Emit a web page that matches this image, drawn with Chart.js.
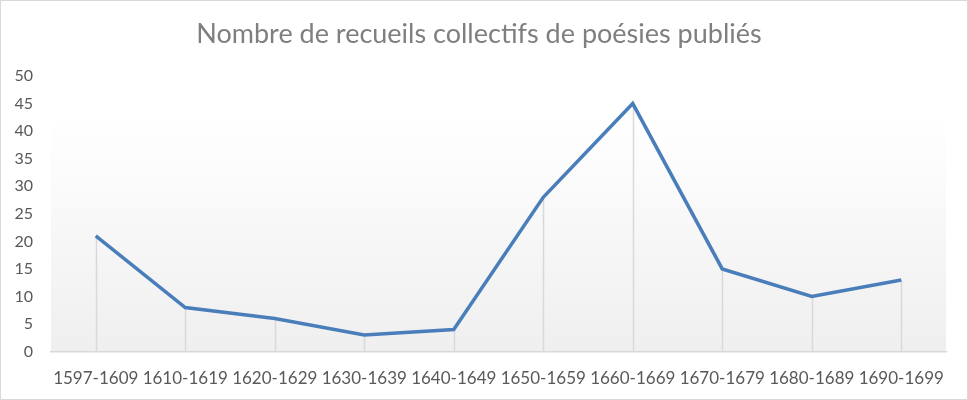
<!DOCTYPE html>
<html>
<head>
<meta charset="utf-8">
<script src="https://cdn.jsdelivr.net/npm/chart.js@4.4.0/dist/chart.umd.min.js"></script>
<style>
  html, body { margin: 0; padding: 0; background: #fff; }
  #wrap { width: 968px; height: 400px; }
</style>
</head>
<body>
<div id="wrap"><canvas id="myChart" width="968" height="400"></canvas></div>
<script>
const titleText = 'Nombre de recueils collectifs de poésies publiés';
const periods = ['1597-1609', '1610-1619', '1620-1629', '1630-1639', '1640-1649',
                 '1650-1659', '1660-1669', '1670-1679', '1680-1689', '1690-1699'];
const recueils = [21, 8, 6, 3, 4, 28, 45, 15, 10, 13];
const yTicks = { min: 0, max: 50, step: 5 };

// plot area gradient + outer frame
const backdrop = {
  id: 'backdrop',
  beforeDraw(chart) {
    const { ctx, chartArea: a } = chart;
    const g = ctx.createLinearGradient(0, a.top, 0, a.bottom);
    g.addColorStop(0, '#ffffff');
    g.addColorStop(0.15, '#ffffff');
    g.addColorStop(1, '#efefef');
    ctx.save();
    ctx.fillStyle = g;
    ctx.fillRect(a.left, a.top, a.right - a.left, a.bottom - a.top);
    ctx.restore();
  },
  afterDraw(chart) {
    const ctx = chart.ctx;
    ctx.save();
    ctx.strokeStyle = '#d9d9d9';
    ctx.lineWidth = 1;
    ctx.strokeRect(0.5, 0.5, chart.width - 1, chart.height - 1);
    ctx.restore();
  }
};

// vertical drop lines from each point down to the x axis
const dropLines = {
  id: 'dropLines',
  beforeDatasetsDraw(chart) {
    const { ctx, scales: { x, y } } = chart;
    ctx.save();
    ctx.strokeStyle = '#d9d9d9';
    ctx.lineWidth = 1.5;
    recueils.forEach((v, i) => {
      const px = Math.round(x.getPixelForValue(i)) + 0.5;
      ctx.beginPath();
      ctx.moveTo(px, y.getPixelForValue(v));
      ctx.lineTo(px, y.getPixelForValue(0));
      ctx.stroke();
    });
    ctx.restore();
  }
};

new Chart(document.getElementById('myChart'), {
  type: 'line',
  data: {
    labels: periods,
    datasets: [{
      data: recueils,
      borderColor: '#4a7ebb',
      borderWidth: 3.5,
      tension: 0,
      pointRadius: 0,
      fill: false
    }]
  },
  options: {
    responsive: false,
    animation: false,
    layout: { padding: { left: 12, right: 22, top: 0, bottom: -6 } },
    plugins: {
      legend: { display: false },
      tooltip: { enabled: false },
      title: {
        display: true,
        text: titleText,
        color: '#7f7f7f',
        font: { family: 'Lato', size: 27, weight: 'normal', lineHeight: 1.2 },
        padding: { top: 18, bottom: 25.6 }
      }
    },
    scales: {
      x: {
        offset: true,
        grid: { display: false, drawTicks: false },
        border: { color: '#d9d9d9', width: 1.5 },
        ticks: { color: '#595959', font: { family: 'Lato', size: 17 }, maxRotation: 0, autoSkip: false, padding: 17 },
        afterFit(s) { s.paddingLeft = 0; s.paddingRight = 0; }
      },
      y: {
        min: yTicks.min,
        max: yTicks.max,
        grid: { display: false, drawTicks: false },
        border: { display: false },
        ticks: { stepSize: yTicks.step, color: '#595959', font: { family: 'Lato', size: 16 }, padding: 18 },
        afterFit(s) { s.width = 39; s.paddingTop = 0; s.paddingBottom = 0; }
      }
    }
  },
  plugins: [backdrop, dropLines]
});
</script>
</body>
</html>
